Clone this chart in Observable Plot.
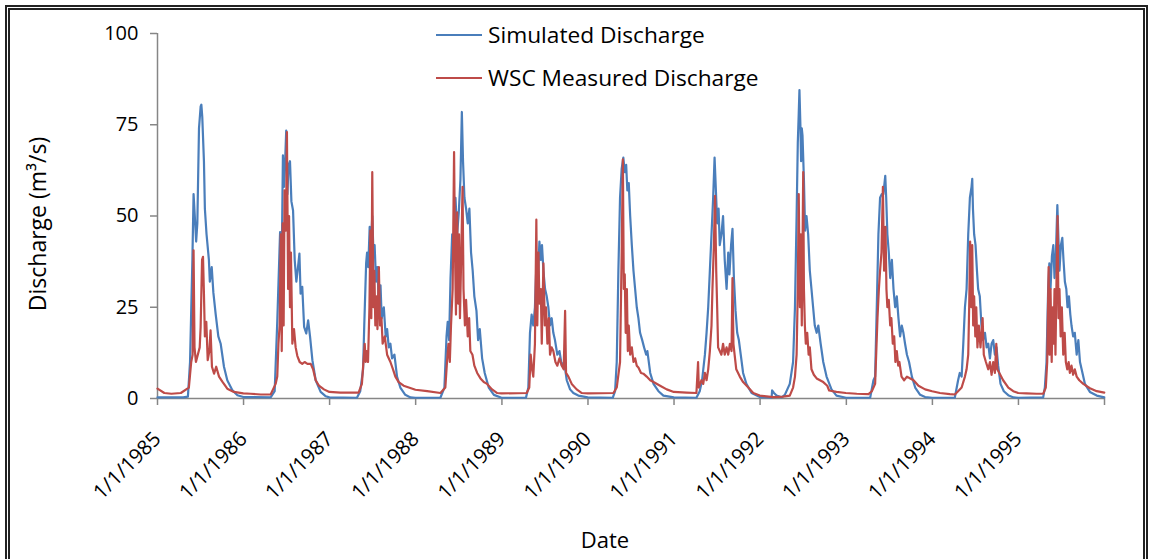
<!DOCTYPE html>
<html><head><meta charset="utf-8">
<script src="https://cdn.jsdelivr.net/npm/d3@7"></script>
<script src="https://cdn.jsdelivr.net/npm/@observablehq/plot@0.6"></script>
<style>
html,body{margin:0;padding:0;background:#fff;overflow:hidden;}
#wrap{position:relative;width:1151px;height:559px;font-family:"Open Sans",sans-serif;color:#000;}
#frame{position:absolute;left:5px;top:5px;width:1133px;height:620px;border:5px double #222;pointer-events:none;}
#chart{position:absolute;left:0;top:0;}
.leg{position:absolute;left:436px;font-size:22.7px;line-height:1;display:flex;align-items:center;white-space:nowrap;}
.leg span.sw{display:inline-block;width:46px;height:2px;margin-right:6px;}
</style></head>
<body>
<div id="wrap">
  <div id="chart"></div>
  <div class="leg" style="top:24px"><span class="sw" style="background:#4a7ebb"></span>Simulated Discharge</div>
  <div class="leg" style="top:67px"><span class="sw" style="background:#be4b48"></span>WSC Measured Discharge</div>
  <div id="frame"></div>
</div>
<script>
// [year, day of year, discharge m3/s]
const simulated = [
[1985,1,0.3],[1985,110,0.3],[1985,130,0.5],[1985,139,10],[1985,149,38],[1985,154,56],[1985,160,49],[1985,165,43],[1985,170,48],[1985,177,74],[1985,184,80],[1985,187,80.5],[1985,191,77],[1985,198,65],[1985,202,52],[1985,209,45],[1985,219,38],[1985,223,32],[1985,231,36],[1985,238,29],[1985,248,23],[1985,259,17],[1985,269,15],[1985,283,8.7],[1985,297,5],[1985,318,2.3],[1985,340,0.9],[1985,365,0.4],
[1986,116,0.3],[1986,133,2],[1986,144,21],[1986,156,45.6],[1986,163,38],[1986,168,66.6],[1986,173,58],[1986,178,66],[1986,182,73.4],[1986,187,56],[1986,192,64],[1986,198,65],[1986,204,54],[1986,211,51.5],[1986,218,38],[1986,225,32],[1986,232,36],[1986,238,39.7],[1986,243,28.7],[1986,250,30.6],[1986,258,19.6],[1986,267,17.8],[1986,275,21.4],[1986,283,17],[1986,293,10.5],[1986,307,5],[1986,328,1.8],[1986,350,0.6],[1986,365,0.3],
[1987,117,0.2],[1987,131,2],[1987,143,8],[1987,148,20],[1987,156,37],[1987,160,40],[1987,165,36],[1987,171,47],[1987,177,43],[1987,182,50],[1987,187,40],[1987,192,42],[1987,198,32],[1987,204,36],[1987,210,25],[1987,217,31],[1987,222,22],[1987,231,25],[1987,239,17],[1987,245,19],[1987,252,14],[1987,259,15],[1987,266,11],[1987,276,12],[1987,287,6],[1987,301,3],[1987,322,1],[1987,344,0.3],[1987,365,0.2],
[1988,106,0.2],[1988,123,3],[1988,132,17],[1988,137,21],[1988,143,16],[1988,149,33],[1988,156,45],[1988,163,38],[1988,170,55],[1988,177,45],[1988,184,51],[1988,191,60],[1988,197,78.5],[1988,202,65],[1988,208,55],[1988,215,52],[1988,222,48],[1988,229,52],[1988,236,40],[1988,243,35],[1988,250,28],[1988,259,24],[1988,266,16],[1988,273,19],[1988,283,11],[1988,294,7],[1988,311,3],[1988,333,1],[1988,365,0.2],
[1989,103,0.2],[1989,113,3],[1989,120,18],[1989,127,23],[1989,134,20],[1989,141,25],[1989,149,40],[1989,154,33],[1989,160,43],[1989,166,38],[1989,171,42],[1989,177,35],[1989,184,30],[1989,191,28],[1989,198,25],[1989,205,20],[1989,212,22],[1989,219,18],[1989,226,16],[1989,236,12],[1989,245,13],[1989,255,9],[1989,265,10],[1989,276,5],[1989,290,2.5],[1989,304,1.5],[1989,325,0.8],[1989,365,0.3],
[1990,106,0.2],[1990,116,2],[1990,123,10],[1990,130,35],[1990,137,55],[1990,144,63],[1990,151,66],[1990,157,62],[1990,163,64],[1990,168,57],[1990,174,59],[1990,180,50],[1990,187,42],[1990,194,35],[1990,201,30],[1990,208,25],[1990,215,22],[1990,222,18],[1990,231,16],[1990,239,14],[1990,248,12],[1990,253,13],[1990,265,7],[1990,279,4],[1990,300,2],[1990,321,0.8],[1990,365,0.3],
[1991,96,0.2],[1991,110,2],[1991,120,5],[1991,132,12],[1991,139,18],[1991,146,25],[1991,153,35],[1991,160,45],[1991,167,55],[1991,173,66],[1991,178,58],[1991,184,48],[1991,190,52],[1991,195,42],[1991,202,45],[1991,209,50],[1991,216,38],[1991,224,30],[1991,231,40],[1991,236,34],[1991,243,42],[1991,249,46.5],[1991,255,33],[1991,262,24],[1991,269,18],[1991,276,16],[1991,284,12],[1991,294,7],[1991,308,4],[1991,330,1.5],[1991,365,0.4],
[1992,50,0.2],[1992,52,2.2],[1992,60,1.5],[1992,71,0.8],[1992,92,0.3],[1992,106,1],[1992,127,4],[1992,141,10],[1992,149,25],[1992,156,50],[1992,161,70],[1992,165,78],[1992,168,84.5],[1992,172,75],[1992,175,65],[1992,178,74],[1992,181,72],[1992,187,60],[1992,192,46],[1992,198,50],[1992,205,45],[1992,212,35],[1992,219,30],[1992,226,25],[1992,233,20],[1992,241,18],[1992,248,20],[1992,258,15],[1992,269,10],[1992,283,6],[1992,304,2.5],[1992,325,0.8],[1992,365,0.2],
[1993,102,0.2],[1993,116,5],[1993,123,6],[1993,130,25],[1993,137,45],[1993,144,55],[1993,151,56],[1993,158,56],[1993,166,61],[1993,170,55],[1993,175,45],[1993,181,40],[1993,187,33],[1993,194,38],[1993,201,30],[1993,208,25],[1993,215,28],[1993,222,22],[1993,229,17],[1993,236,20],[1993,243,18],[1993,250,15],[1993,258,12],[1993,267,10],[1993,279,6],[1993,293,3],[1993,314,1],[1993,335,0.4],[1993,365,0.2],
[1994,96,0.2],[1994,110,5],[1994,117,7],[1994,125,6],[1994,132,15],[1994,139,25],[1994,146,30],[1994,153,45],[1994,160,55],[1994,167,58],[1994,170,60.2],[1994,173,52],[1994,178,45],[1994,184,42],[1994,190,35],[1994,195,30],[1994,202,28],[1994,209,20],[1994,216,16],[1994,224,18],[1994,231,14],[1994,238,15],[1994,245,11],[1994,252,15],[1994,259,16],[1994,266,12],[1994,273,14],[1994,280,9],[1994,290,4],[1994,304,2],[1994,325,0.8],[1994,345,0.3],[1994,365,0.2],
[1995,106,0.3],[1995,113,3],[1995,120,10],[1995,127,30],[1995,132,37],[1995,137,30],[1995,143,39],[1995,149,42],[1995,154,33],[1995,160,40],[1995,166,53],[1995,170,45],[1995,175,35],[1995,181,42],[1995,187,44],[1995,192,38],[1995,198,32],[1995,204,30],[1995,209,25],[1995,215,28],[1995,221,23],[1995,226,20],[1995,233,17],[1995,240,18],[1995,248,12],[1995,255,16],[1995,262,10],[1995,269,8],[1995,283,4],[1995,304,1.8],[1995,333,0.8],[1995,365,0.3]
];
const measured = [
[1985,1,2.7],[1985,30,1.5],[1985,60,1.3],[1985,100,1.5],[1985,134,3],[1985,144,10],[1985,150,12],[1985,154,40.6],[1985,158,14],[1985,164,10],[1985,172,12],[1985,180,14],[1985,184,19.6],[1985,190,38],[1985,194,38.8],[1985,198,28.7],[1985,202,17],[1985,208,21],[1985,214,10.5],[1985,221,13],[1985,226,18.7],[1985,232,8.7],[1985,241,6.8],[1985,250,8.7],[1985,262,6],[1985,276,4.6],[1985,297,2.7],[1985,325,1.8],[1985,365,1.4],
[1986,31,1.3],[1986,74,1.1],[1986,116,1.1],[1986,137,4],[1986,144,6],[1986,149,15],[1986,154,20],[1986,159,45],[1986,163,13],[1986,167,48],[1986,171,20],[1986,175,57],[1986,181,46],[1986,185,73],[1986,190,30],[1986,194,50],[1986,198,25],[1986,202,40],[1986,208,15],[1986,215,19],[1986,222,14],[1986,229,11.7],[1986,239,10],[1986,250,9.5],[1986,260,10],[1986,272,9.5],[1986,286,9.5],[1986,296,8],[1986,307,5],[1986,321,3.5],[1986,342,2.5],[1986,365,1.8],
[1987,47,1.6],[1987,124,1.6],[1987,138,4],[1987,150,15],[1987,154,10],[1987,158,13],[1987,164,10],[1987,170,25],[1987,174,46],[1987,178,22],[1987,182,62],[1987,187,25],[1987,191,35],[1987,195,20],[1987,200,28],[1987,204,19],[1987,210,36],[1987,215,20],[1987,221,22],[1987,226,15],[1987,235,17],[1987,245,12],[1987,259,10],[1987,270,8],[1987,280,6],[1987,294,4.5],[1987,315,3.5],[1987,337,3],[1987,365,2.4],
[1988,50,2],[1988,106,1.5],[1988,127,3],[1988,134,10],[1988,140,15],[1988,146,10],[1988,151,20],[1988,158,30],[1988,164,67.5],[1988,168,40],[1988,172,23],[1988,177,51],[1988,181,26],[1988,185,45],[1988,189,22],[1988,194,38],[1988,200,58],[1988,204,30],[1988,210,20],[1988,215,27],[1988,222,17],[1988,228,22],[1988,233,13],[1988,242,12],[1988,250,9],[1988,262,7],[1988,276,5.5],[1988,290,4.5],[1988,304,4],[1988,325,2.5],[1988,347,1.5],[1988,365,1.4],
[1989,106,1.5],[1989,117,3],[1989,123,12],[1989,129,8],[1989,134,6],[1989,141,15],[1989,147,49],[1989,151,20],[1989,156,40],[1989,160,26],[1989,166,30],[1989,170,15],[1989,177,37],[1989,183,20],[1989,188,25],[1989,194,15],[1989,200,22],[1989,205,12],[1989,212,14],[1989,219,13],[1989,228,10],[1989,236,9],[1989,245,11],[1989,255,9],[1989,263,8],[1989,269,24],[1989,273,7],[1989,283,6],[1989,297,4],[1989,318,2.5],[1989,340,1.5],[1989,365,1.4],
[1990,109,1.5],[1990,123,3],[1990,137,10],[1990,144,40],[1990,149,65.5],[1990,153,30],[1990,157,34],[1990,161,18],[1990,166,30],[1990,170,13],[1990,174,20],[1990,180,12],[1990,187,14],[1990,194,10],[1990,201,11],[1990,208,9],[1990,215,8.5],[1990,226,7],[1990,236,6.8],[1990,250,6],[1990,265,5],[1990,279,4.5],[1990,307,3.5],[1990,335,2.5],[1990,365,1.8],
[1991,54,1.6],[1991,96,1.5],[1991,103,10],[1991,106,3],[1991,117,5],[1991,125,4],[1991,132,7],[1991,139,5],[1991,146,8],[1991,153,13],[1991,160,20],[1991,164,30],[1991,170,42],[1991,175,55.5],[1991,180,35],[1991,184,25],[1991,188,14],[1991,195,13],[1991,202,12],[1991,209,15],[1991,216,12],[1991,224,14],[1991,231,12],[1991,238,15],[1991,245,13],[1991,249,33],[1991,253,15],[1991,258,12],[1991,265,8],[1991,280,6],[1991,294,4.5],[1991,316,3],[1991,337,1.5],[1991,365,0.8],
[1992,28,0.6],[1992,57,0.4],[1992,99,0.5],[1992,127,0.8],[1992,141,3],[1992,149,6],[1992,156,12],[1992,161,30],[1992,165,56],[1992,170,25],[1992,174,45],[1992,178,20],[1992,184,62],[1992,187,30],[1992,191,20],[1992,195,15],[1992,201,18],[1992,207,12],[1992,212,14],[1992,219,8],[1992,229,6.5],[1992,241,5.5],[1992,255,5],[1992,269,4.5],[1992,286,3.5],[1992,294,2.2],[1992,325,1.8],[1992,365,1.5],
[1993,45,1.3],[1993,95,1.2],[1993,109,2],[1993,123,4],[1993,133,22],[1993,139,30],[1993,144,35],[1993,150,40],[1993,156,58],[1993,161,35],[1993,167,47],[1993,171,30],[1993,175,25],[1993,181,27],[1993,187,20],[1993,192,22],[1993,198,15],[1993,204,17],[1993,209,10],[1993,215,13],[1993,221,9],[1993,226,10],[1993,235,6],[1993,246,5],[1993,258,6],[1993,272,5.5],[1993,286,5],[1993,307,3.5],[1993,335,2.5],[1993,365,2],
[1994,33,1.5],[1994,75,1.2],[1994,96,1.1],[1994,110,2],[1994,125,3],[1994,139,6],[1994,146,8],[1994,153,12],[1994,157,25],[1994,161,43],[1994,166,25],[1994,170,42],[1994,174,20],[1994,178,28],[1994,183,17],[1994,187,25],[1994,192,14],[1994,198,20],[1994,205,14],[1994,214,22],[1994,219,12],[1994,228,10],[1994,238,8],[1994,245,10],[1994,252,6.5],[1994,259,10],[1994,266,7],[1994,272,15],[1994,276,8],[1994,285,7],[1994,301,5],[1994,323,3],[1994,344,2],[1994,365,1.5],
[1995,35,1.4],[1995,78,1.3],[1995,106,1.3],[1995,117,3],[1995,123,10],[1995,129,36],[1995,133,12],[1995,137,30],[1995,142,10],[1995,146,25],[1995,150,15],[1995,154,30],[1995,158,12],[1995,163,35],[1995,167,50],[1995,171,22],[1995,175,30],[1995,180,17],[1995,185,25],[1995,191,12],[1995,197,18],[1995,202,10],[1995,208,8],[1995,214,10],[1995,219,7],[1995,226,9],[1995,233,6.5],[1995,240,8],[1995,248,6],[1995,259,5],[1995,276,4],[1995,304,2.8],[1995,333,2],[1995,365,1.6]
];
const yTicks = [0, 25, 50, 75, 100];
const tickYears = [1985,1986,1987,1988,1989,1990,1991,1992,1993,1994,1995,1996];
const labelYears = [1985,1986,1987,1988,1989,1990,1991,1992,1993,1994,1995];

const toDate = (y, d) => new Date(Date.UTC(y, 0, d));
const sim = simulated.map(([y, d, v]) => ({date: toDate(y, d), q: v}));
const obs = measured.map(([y, d, v]) => ({date: toDate(y, d), q: v}));
const tickDates = tickYears.map(y => toDate(y, 1));
const x0 = toDate(tickYears[0], 1);
const x1 = toDate(tickYears[tickYears.length - 1], 1);

const chart = Plot.plot({
  width: 1151, height: 559,
  marginLeft: 157, marginRight: 47, marginTop: 33, marginBottom: 161,
  style: {fontFamily: "'Open Sans', sans-serif", fontSize: "20px", color: "#000", background: "transparent", overflow: "visible"},
  x: {type: "utc", domain: [x0, x1]},
  y: {domain: [0, 100]},
  marks: [
    Plot.ruleX([x0], {stroke: "#868686", strokeWidth: 1.5}),
    Plot.ruleY([0], {stroke: "#868686", strokeWidth: 1.5}),
    Plot.axisY({ticks: yTicks, tickSize: 7, tickPadding: 12, stroke: "#868686", strokeWidth: 1.5, strokeOpacity: 1, fontSize: 20, label: null}),
    Plot.axisX({ticks: tickDates, tickSize: 7, tickPadding: 30, tickRotate: -45, stroke: "#868686", strokeWidth: 1.5, strokeOpacity: 1, fontSize: 20.5, label: null,
      tickFormat: d => labelYears.includes(d.getUTCFullYear()) ? `1/1/${d.getUTCFullYear()}` : ""}),
    Plot.line(sim, {x: "date", y: "q", stroke: "#4a7ebb", strokeWidth: 2.2}),
    Plot.line(obs, {x: "date", y: "q", stroke: "#be4b48", strokeWidth: 2.2}),
    Plot.text(["Discharge (m³/s)"], {frameAnchor: "left", textAnchor: "middle", dx: -119, dy: 8, rotate: -90, fontSize: 23}),
    Plot.text(["Date"], {frameAnchor: "bottom", dx: -26, dy: 149, fontSize: 22})
  ]
});
document.getElementById("chart").appendChild(chart);
</script>
</body></html>
